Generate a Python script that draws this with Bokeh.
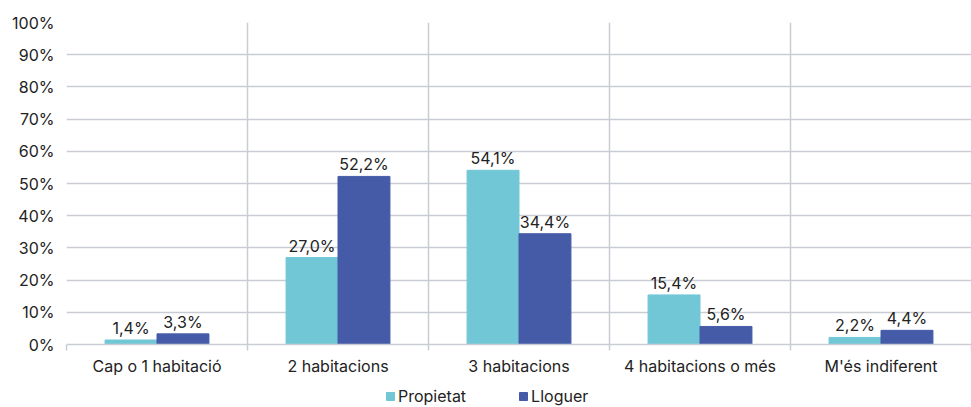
from bokeh.plotting import figure
from bokeh.layouts import column
from bokeh.models import ColumnDataSource, FixedTicker, LabelSet, Legend, LegendItem, Range1d
from bokeh.core.properties import value
from bokeh.transform import dodge
from bokeh.embed import file_html
from bokeh.resources import INLINE

categories = ["Cap o 1 habitació", "2 habitacions", "3 habitacions", "4 habitacions o més", "M'és indiferent"]
propietat = [1.4, 27.0, 54.1, 15.4, 2.2]
lloguer = [3.3, 52.2, 34.4, 5.6, 4.4]
series_names = ["Propietat", "Lloguer"]
y_ticks = [0, 10, 20, 30, 40, 50, 60, 70, 80, 90, 100]

FONT = "Inter"
TXT = "#222222"
GRID = "#c9cdd3"
C1 = "#72c7d7"
C2 = "#455ba8"

xs = [i + 0.5 for i in range(len(categories))]
fmt = lambda v: f"{v:.1f}".replace(".", ",") + "%"
src = ColumnDataSource(dict(
    x=xs, p=propietat, l=lloguer,
    pl=[fmt(v) for v in propietat], ll=[fmt(v) for v in lloguer],
))

p = figure(frame_width=905, frame_height=322, output_backend="svg", toolbar_location=None,
           x_range=Range1d(0, len(categories)), y_range=Range1d(0, 100),
           min_border_left=66, min_border_right=0, min_border_top=22, min_border_bottom=0)
p.outline_line_color = None

bw = 0.287
off = bw / 2
r1 = p.vbar(x=dodge("x", -off, range=p.x_range), top="p", width=bw, source=src, color=C1)
r2 = p.vbar(x=dodge("x", off, range=p.x_range), top="l", width=bw, source=src, color=C2)

for col, lab, o in (("p", "pl", -off), ("l", "ll", off)):
    p.add_layout(LabelSet(x=dodge("x", o, range=p.x_range), y=col, text=lab, source=src,
                          text_align="center", text_baseline="bottom", y_offset=2,
                          text_font=value(FONT), text_font_size="16px", text_color=TXT))

# y axis
p.yaxis.ticker = FixedTicker(ticks=y_ticks)
p.yaxis.major_label_overrides = {v: f"{v}%" for v in y_ticks}
p.yaxis.axis_line_color = None
p.yaxis.major_tick_line_color = None
p.yaxis.minor_tick_line_color = None
p.yaxis.major_label_text_font = FONT
p.yaxis.major_label_text_font_size = "16px"
p.yaxis.major_label_text_color = TXT
p.yaxis.major_label_standoff = 6
p.ygrid.ticker = FixedTicker(ticks=y_ticks)
p.ygrid.grid_line_color = GRID
p.ygrid.grid_line_width = 1.5

# x axis
p.xaxis.ticker = FixedTicker(ticks=xs, minor_ticks=list(range(len(categories) + 1)))
p.xaxis.major_label_overrides = {x: c for x, c in zip(xs, categories)}
p.xaxis.axis_line_color = GRID
p.xaxis.axis_line_width = 1.5
p.xaxis.major_tick_line_color = None
p.xaxis.minor_tick_line_color = GRID
p.xaxis.minor_tick_line_width = 1.5
p.xaxis.minor_tick_in = 0
p.xaxis.minor_tick_out = 6
p.xaxis.major_label_text_font = FONT
p.xaxis.major_label_text_font_size = "16px"
p.xaxis.major_label_text_color = TXT
p.xaxis.major_label_standoff = 5
p.xgrid.ticker = FixedTicker(ticks=list(range(len(categories) + 1)))
p.xgrid.grid_line_color = GRID
p.xgrid.grid_line_width = 1.5

# legend strip below the chart (swatch renderers sit outside the strip's visible range)
lf = figure(width=971, height=32, output_backend="svg", toolbar_location=None,
            x_axis_location=None, y_axis_location=None, min_border=0,
            x_range=Range1d(0, 1), y_range=Range1d(0, 1))
lf.outline_line_color = None
lf.xgrid.visible = False
lf.ygrid.visible = False
e1 = lf.vbar(x=[-5], top=[0], width=0.1, color=C1)
e2 = lf.vbar(x=[-5], top=[0], width=0.1, color=C2)
legend = Legend(items=[LegendItem(label=series_names[0], renderers=[e1]),
                       LegendItem(label=series_names[1], renderers=[e2])],
                orientation="horizontal", location=(319, 4),
                label_text_font=FONT, label_text_font_size="16px", label_text_color=TXT,
                glyph_width=10, glyph_height=10, spacing=52, label_standoff=3,
                label_height=16, padding=0, margin=0, border_line_color=None,
                background_fill_alpha=0)
lf.add_layout(legend, "center")

open("out.html", "w").write(file_html(column(p, lf, spacing=0), INLINE))
